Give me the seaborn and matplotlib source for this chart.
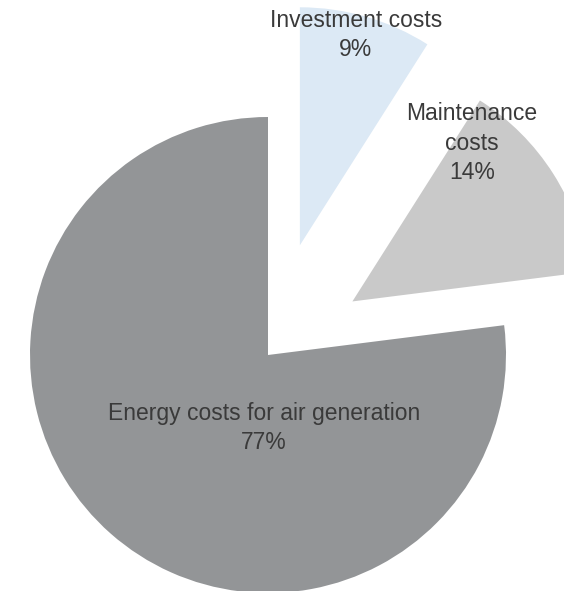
import matplotlib
matplotlib.use("Agg")
import matplotlib.pyplot as plt
import seaborn as sns

# Cost breakdown of compressed air over its lifetime
categories = ["Energy costs for air generation", "Maintenance\ncosts", "Investment costs"]
shares = [77, 14, 9]
slice_colors = ["#939597", "#c9c9c9", "#dce9f5"]
explode_frac = [0.0, 0.42, 0.48]

sns.set_theme(style="white")
plt.rcParams["font.family"] = ["Liberation Sans", "DejaVu Sans"]
palette = sns.color_palette(slice_colors)

W, H = 564, 591
fig = plt.figure(figsize=(W / 100, H / 100), dpi=100)
ax = fig.add_axes([0, 0, 1, 1])

cx, cy, r = 268, H - 355, 238
# pie offsets are in data units, so scale the fractions by the radius
wedges, _ = ax.pie(
    shares,
    colors=palette,
    explode=[e * r for e in explode_frac],
    startangle=90,
    counterclock=True,
    center=(cx, cy),
    radius=r,
    wedgeprops=dict(linewidth=0),
)

ax.set_xlim(0, W)
ax.set_ylim(0, H)
ax.set_aspect("equal")
ax.axis("off")

txt = dict(ha="center", va="center", color="#3a3a3a", fontsize=16.5, linespacing=1.35)
ax.text(356, H - 35, f"{categories[2]}\n{shares[2]}%", **txt)
ax.text(472, H - 143, f"{categories[1]}\n{shares[1]}%", **txt)
ax.text(264, H - 428, f"{categories[0]}\n{shares[0]}%", **txt)

fig.savefig("out.png", dpi=100, facecolor="white")
